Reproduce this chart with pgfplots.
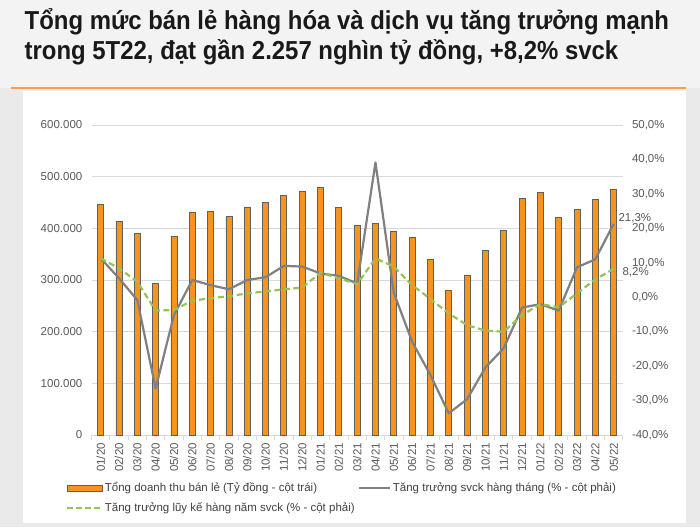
\documentclass[border=0pt]{standalone}
\usepackage{fontspec}
\setmainfont{Liberation Sans}
\newfontfamily\titlefont[FakeStretch=0.92]{Liberation Sans}
\usepackage{pgfplots}
\pgfplotsset{compat=1.18}
\definecolor{bgcol}{RGB}{234,234,234}
\definecolor{titlebg}{RGB}{243,243,243}
\definecolor{orangeline}{RGB}{247,160,70}
\definecolor{barorange}{RGB}{247,148,29}
\definecolor{bardraw}{RGB}{95,95,95}
\definecolor{grayline}{RGB}{128,128,128}
\definecolor{greenline}{RGB}{150,196,84}
\definecolor{gridgray}{RGB}{217,217,217}
\definecolor{tickgray}{RGB}{89,89,89}
\definecolor{legtext}{RGB}{64,64,64}
\begin{document}
\begin{tikzpicture}[x=1pt,y=1pt]
\useasboundingbox (0,0) rectangle (700,527);
\fill[bgcol] (0,0) rectangle (700,527);
\fill[titlebg] (0,439) rectangle (700,527);
\fill[white] (22.5,4) rectangle (686,436);
\draw[orangeline, line width=1.6pt] (11,438.7) -- (686,438.7);
\node[anchor=base west, inner sep=0pt, text=black!90] at (24.5,497)
  {\titlefont\fontsize{26}{30}\selectfont\bfseries Tổng mức bán lẻ hàng hóa và dịch vụ tăng trưởng mạnh};
\node[anchor=base west, inner sep=0pt, text=black!90] at (24.5,467)
  {\titlefont\fontsize{26}{30}\selectfont\bfseries trong 5T22, đạt gần 2.257 nghìn tỷ đồng, +8,2\% svck};

\begin{axis}[
  at={(91.5pt,92pt)}, anchor=south west,
  scale only axis, width=531.3pt, height=310pt,
  xmin=-0.5, xmax=28.5, ymin=0, ymax=600000,
  scaled y ticks=false,
  ybar, bar width=6pt,
  axis x line*=bottom, axis y line*=left,
  y axis line style={draw=none},
  x axis line style={draw=gridgray, line width=0.8pt},
  xtick={0,...,28},
  xticklabels={01/20,02/20,03/20,04/20,05/20,06/20,07/20,08/20,09/20,10/20,11/20,12/20,01/21,02/21,03/21,04/21,05/21,06/21,07/21,08/21,09/21,10/21,11/21,12/21,01/22,02/22,03/22,04/22,05/22},
  minor xtick={-0.5,0.5,...,28.5},
  major tick length=0pt, minor tick length=5pt, tick align=outside,
  minor tick style={draw=gridgray, line width=0.8pt},
  xticklabel style={rotate=90, anchor=east, inner sep=0pt, font=\fontsize{11.5}{13}\selectfont, text=tickgray},
  xticklabel shift=8pt,
  ytick={0,100000,200000,300000,400000,500000,600000},
  yticklabels={0,100.000,200.000,300.000,400.000,500.000,600.000},
  yticklabel style={anchor=east, inner sep=0pt, font=\fontsize{11.5}{13}\selectfont, text=tickgray},
  yticklabel shift=9pt,
  ymajorgrids, grid style={draw=gridgray, line width=0.8pt},
]
\addplot[fill=barorange, draw=bardraw, line width=0.8pt] coordinates {
(0,447000) (1,413600) (2,389700) (3,293500) (4,383900) (5,430300) (6,432300)
(7,422600) (8,441300) (9,450300) (10,463200) (11,472300) (12,479400) (13,440000)
(14,405000) (15,409000) (16,393500) (17,382000) (18,339300) (19,280000) (20,309700)
(21,358000) (22,396000) (23,458000) (24,470300) (25,421300) (26,437400) (27,455500)
(28,476100)};
\end{axis}

\begin{axis}[
  at={(91.5pt,92pt)}, anchor=south west,
  scale only axis, width=531.3pt, height=310pt,
  xmin=-0.5, xmax=28.5, ymin=-40, ymax=50,
  axis x line=none, axis y line*=right,
  y axis line style={draw=none},
  major tick length=0pt,
  clip=false,
  ytick={-40,-30,-20,-10,0,10,20,30,40,50},
  yticklabels={-40{,}0\%,-30{,}0\%,-20{,}0\%,-10{,}0\%,0{,}0\%,10{,}0\%,20{,}0\%,30{,}0\%,40{,}0\%,50{,}0\%},
  yticklabel style={anchor=west, inner sep=0pt, font=\fontsize{11.5}{13}\selectfont, text=tickgray},
  yticklabel shift=9pt,
  legend columns=2,
  legend cell align=left,
  legend style={at={(-0.048,-0.148)}, anchor=north west, draw=none, fill=none,
    font=\fontsize{11.5}{13}\selectfont, text=legtext, inner sep=0pt,
    nodes={inner sep=1.5pt},
    /tikz/every even column/.append style={column sep=2pt},
    row sep=6.5pt},
]
\addlegendimage{legend image code/.code={\draw[fill=barorange, draw=bardraw, line width=0.8pt] (0pt,-3pt) rectangle (35pt,3pt);}}
\addlegendentry{Tổng doanh thu bán lẻ (Tỷ đồng - cột trái)}
\addplot[grayline, line width=2.2pt, line join=round,
  legend image code/.code={\draw[grayline, line width=2.2pt] (0pt,0pt) -- (31pt,0pt);}] coordinates {
(0,11.3) (1,5.5) (2,-0.8) (3,-26.5) (4,-5.2) (5,5.0) (6,3.5) (7,2.3) (8,5.0) (9,5.8)
(10,9.1) (11,8.9) (12,6.9) (13,6.2) (14,4.0) (15,39.1) (16,1.3) (17,-12.9) (18,-22.6)
(19,-33.7) (20,-29.6) (21,-20.4) (22,-14.8) (23,-3.0) (24,-2.0) (25,-3.9) (26,8.7)
(27,11.0) (28,21.3)};
\addlegendentry{Tăng trưởng svck hàng tháng (\% - cột phải)}
\addplot[greenline, line width=2.2pt, dash pattern=on 6pt off 3.5pt,
  legend image code/.code={\draw[greenline, line width=2.2pt, dash pattern=on 6pt off 3pt] (0pt,0pt) -- (35pt,0pt);}] coordinates {
(0,11.3) (1,8.4) (2,4.5) (3,-3.9) (4,-3.7) (5,-1.0) (6,-0.3) (7,0.3) (8,1.1) (9,1.7)
(10,2.3) (11,2.8) (12,7.1) (13,5.5) (14,3.8) (15,11.3) (16,8.9) (17,3.5) (18,-0.5)
(19,-4.7) (20,-8.1) (21,-9.7) (22,-10.0) (23,-5.2) (24,-2.0) (25,-2.9) (26,1.1)
(27,5.2) (28,8.2)};
\addlegendentry{Tăng trưởng lũy kế hàng năm svck (\% - cột phải)}
\node[anchor=west, inner sep=0pt, text=tickgray, font=\fontsize{11.5}{13}\selectfont, xshift=4.7pt, yshift=6pt] at (axis cs:28,21.3) {21,3\%};
\node[anchor=west, inner sep=0pt, text=tickgray, font=\fontsize{11.5}{13}\selectfont, xshift=8.7pt, yshift=-3.7pt] at (axis cs:28,8.2) {8,2\%};
\end{axis}
\end{tikzpicture}
\end{document}
